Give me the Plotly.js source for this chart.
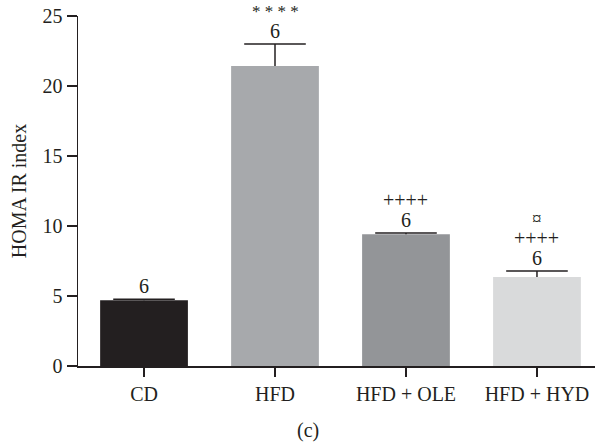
<!DOCTYPE html>
<html>
<head>
<meta charset="utf-8">
<script src="https://cdn.plot.ly/plotly-3.0.1.min.js"></script>
<style>html,body{margin:0;padding:0;background:#fff;}#chart{width:595px;height:445px;}</style>
</head>
<body>
<div id="chart"></div>
<script>
const categories = ["CD", "HFD", "HFD + OLE", "HFD + HYD"];
const means = [4.69, 21.43, 9.41, 6.36];
const errors = [0.07, 1.57, 0.09, 0.43];
const nLabels = ["6", "6", "6", "6"];
const sigLabels = [[], ["* * * *"], ["++++"], ["++++", "¤"]];
const barColors = ["#231f20", "#a7a9ac", "#939598", "#d9dadb"];

const axisColor = "#231f20";
const fontFam = "Liberation Serif, Times New Roman, serif";
const fs = 20;

const barTrace = {
  type: "bar",
  x: categories,
  y: means,
  width: 0.67,
  marker: {color: barColors, line: {width: 0}},
  hoverinfo: "skip"
};
// vertical whisker (upper only), drawn as symmetric error around the midpoint
const whiskerTrace = {
  type: "scatter", mode: "markers",
  x: categories,
  y: means.map((m, i) => m + errors[i] / 2),
  marker: {size: 0.1, opacity: 0},
  error_y: {type: "data", array: errors.map(e => e / 2), color: axisColor, thickness: 1.5, width: 0},
  hoverinfo: "skip"
};
// cap at the top of the whisker
const capTrace = {
  type: "scatter", mode: "markers",
  x: categories,
  y: means.map((m, i) => m + errors[i]),
  marker: {symbol: "line-ew", size: 44, line: {width: 1.5, color: axisColor}, color: axisColor},
  hoverinfo: "skip"
};

const annotations = [];
categories.forEach((c, i) => {
  const top = means[i] + errors[i];
  annotations.push({x: c, y: top, xref: "x", yref: "y", text: nLabels[i], showarrow: false,
    yanchor: "middle", yshift: 13, font: {family: fontFam, size: fs, color: axisColor}});
  sigLabels[i].forEach((s, k) => {
    annotations.push({x: c, y: top, xref: "x", yref: "y", text: s, showarrow: false,
      yanchor: "middle", yshift: 33 + 19.5 * k,
      font: {family: fontFam, size: s === "¤" ? 19 : (s.indexOf("*") >= 0 ? 17 : fs), color: axisColor}});
  });
});
annotations.push({x: 0.445, y: -0.185, xref: "paper", yref: "paper", text: "(c)", showarrow: false,
  yanchor: "middle", xanchor: "center", font: {family: fontFam, size: fs, color: axisColor}});

const layout = {
  width: 595, height: 445,
  margin: {l: 78, r: 0, t: 15.7, b: 79.3},
  paper_bgcolor: "#fff", plot_bgcolor: "#fff",
  font: {family: fontFam, size: fs, color: axisColor},
  showlegend: false,
  xaxis: {
    range: [-0.504, 3.443], showgrid: false, zeroline: false,
    showline: true, linecolor: axisColor, linewidth: 1.5,
    ticks: "outside", ticklen: 9, tickwidth: 1.5, tickcolor: axisColor,
    tickfont: {family: fontFam, size: fs, color: axisColor}, automargin: false
  },
  yaxis: {
    range: [0, 25], tickvals: [0, 5, 10, 15, 20, 25], showgrid: false, zeroline: false,
    showline: true, linecolor: axisColor, linewidth: 1.5,
    ticks: "outside", ticklen: 10, tickwidth: 1.5, tickcolor: axisColor,
    tickfont: {family: fontFam, size: fs, color: axisColor}, automargin: false,
    title: {text: "HOMA IR index", font: {family: fontFam, size: fs, color: axisColor}, standoff: 10}
  },
  annotations: annotations
};

Plotly.newPlot("chart", [barTrace, whiskerTrace, capTrace], layout, {displayModeBar: false, staticPlot: true});
</script>
</body>
</html>
